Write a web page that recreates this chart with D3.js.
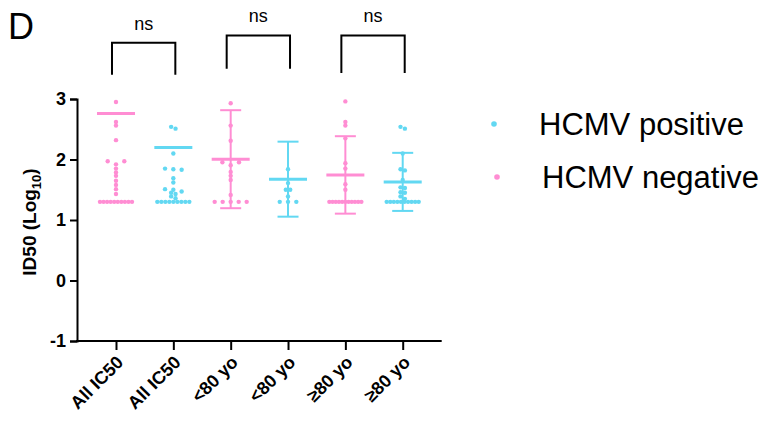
<!DOCTYPE html>
<html>
<head>
<meta charset="utf-8">
<script src="https://cdn.jsdelivr.net/npm/d3@7"></script>
<style>
  html, body { margin: 0; padding: 0; background: #fff; }
  svg { display: block; font-family: "Liberation Sans", Arial, sans-serif; }
</style>
</head>
<body>
<svg id="chart" width="772" height="421"></svg>
<script>
// Neutralising titres (log10 ID50) split by HCMV status and age group
const categories = ["All IC50", "All IC50", "<80 yo", "<80 yo", "≥80 yo", "≥80 yo"];
const status = ["negative", "positive", "negative", "positive", "negative", "positive"];

// Group mean and SD (null where only the central line is shown)
const means = [2.76, 2.20, 2.005, 1.675, 1.745, 1.63];
const sds = [null, null, 0.81, 0.62, 0.64, 0.48];

// Individual log10 titres per group, highest first
const allNeg = [2.95, 2.62, 2.56, 2.32, 1.97, 1.92, 1.97, 1.85, 1.785, 1.73, 1.65, 1.58, 1.51, 1.43,
  1.3, 1.3, 1.3, 1.3, 1.3, 1.3, 1.3, 1.3, 1.3, 1.3];
const allPos = [2.54, 2.51, 2.10, 1.85, 1.84, 1.83, 1.69, 1.62, 1.51, 1.50, 1.47, 1.45, 1.43, 1.39, 1.36,
  1.3, 1.3, 1.3, 1.3, 1.3, 1.3, 1.3, 1.3, 1.3];
const youngNeg = [2.93, 2.56, 2.31, 1.955, 1.905, 1.955, 1.795, 1.73, 1.66, 1.415, 1.3, 1.3, 1.3, 1.3, 1.3];
const youngPos = [1.84, 1.61, 1.50, 1.50, 1.39, 1.3, 1.3, 1.3];
const oldNeg = [2.96, 2.62, 2.56, 2.35, 1.94, 1.85, 1.59, 1.50,
  1.3, 1.3, 1.3, 1.3, 1.3, 1.3, 1.3, 1.3, 1.3, 1.3, 1.3];
const oldPos = [2.54, 2.51, 2.10, 1.84, 1.82, 1.66, 1.54, 1.53, 1.46, 1.45, 1.39, 1.35,
  1.3, 1.3, 1.3, 1.3, 1.3, 1.3, 1.3, 1.3, 1.3, 1.3];
const groupValues = [allNeg, allPos, youngNeg, youngPos, oldNeg, oldPos];

const yTicks = [-1, 0, 1, 2, 3];

// Comparisons drawn above the plot: category indices, bracket top / leg ends in log units
const comparisons = [
  { a: 0, b: 1, top: 3.93, leg: 3.40, label: "ns" },
  { a: 2, b: 3, top: 4.05, leg: 3.50, label: "ns" },
  { a: 4, b: 5, top: 4.05, leg: 3.43, label: "ns" }
];

const legendItems = ["positive", "negative"];
const legendLabels = { positive: "HCMV positive", negative: "HCMV negative" };

// ---- drawing ----
const colors = { negative: "#FF8DD3", positive: "#62D8F2" };
const svg = d3.select("#chart");

const x = d3.scalePoint()
  .domain(d3.range(categories.length))
  .range([77, 441.7])
  .padding(0.68);

const y = d3.scaleLinear().domain([-1, 3]).range([341, 99]);

// y axis
const yAxis = svg.append("g")
  .attr("transform", "translate(77,0)")
  .call(d3.axisLeft(y).tickValues(yTicks).tickFormat(d => String(d)).tickSize(7).tickPadding(4));
yAxis.select(".domain").attr("stroke", "#000").attr("stroke-width", 2);
yAxis.selectAll(".tick line").attr("stroke", "#000").attr("stroke-width", 2);
yAxis.selectAll(".tick text")
  .attr("font-size", 18).attr("font-weight", "bold").attr("fill", "#000")
  .attr("font-family", "Liberation Sans, Arial, sans-serif");

// x axis
const xAxis = svg.append("g")
  .attr("transform", "translate(0,341)")
  .call(d3.axisBottom(x).tickSizeOuter(0).tickSize(9).tickFormat(() => ""));
xAxis.select(".domain").attr("stroke", "#000").attr("stroke-width", 2)
  .attr("d", "M76,0H441.7");
xAxis.selectAll(".tick line").attr("stroke", "#000").attr("stroke-width", 2);

// rotated category labels
svg.append("g").selectAll("text")
  .data(categories)
  .join("text")
  .attr("transform", (d, i) => `translate(${x(i) + 4},${359}) rotate(-45)`)
  .attr("text-anchor", "end")
  .attr("dy", "0.35em")
  .attr("font-size", 18)
  .attr("font-weight", "bold")
  .attr("fill", "#000")
  .text(d => d);

// y axis title with subscript
const yTitle = svg.append("text")
  .attr("transform", "translate(36,222) rotate(-90)")
  .attr("text-anchor", "middle")
  .attr("font-size", 19)
  .attr("font-weight", "bold")
  .attr("fill", "#000");
yTitle.append("tspan").text("ID50 (Log");
yTitle.append("tspan").attr("font-size", 13).attr("dy", 5).text("10");
yTitle.append("tspan").attr("dy", -5).text(")");

// lay out points in rows: close values share a row and are spread sideways
function layout(values) {
  const rows = [];
  let current = null;
  values.forEach(v => {
    if (current && Math.abs(y(v) - y(current.start)) < 3.2) current.items.push(v);
    else { current = { start: v, items: [v] }; rows.push(current); }
  });
  const out = [];
  rows.forEach(r => {
    const n = r.items.length;
    const s = n === 2 ? 4.4 : Math.min(8.3, 32 / Math.max(1, n - 1));
    r.items.forEach((v, i) => out.push({ v, dx: (i - (n - 1) / 2) * s }));
  });
  return out;
}

const groups = svg.append("g").selectAll("g")
  .data(categories.map((c, i) => ({ i, status: status[i], mean: means[i], sd: sds[i], values: groupValues[i] })))
  .join("g")
  .attr("transform", d => `translate(${x(d.i)},0)`);

// error bars (mean ± SD)
groups.filter(d => d.sd != null).each(function (d) {
  const g = d3.select(this);
  const c = colors[d.status];
  g.append("line").attr("x1", 0).attr("x2", 0)
    .attr("y1", y(d.mean + d.sd)).attr("y2", y(d.mean - d.sd))
    .attr("stroke", c).attr("stroke-width", 2);
  [d.mean + d.sd, d.mean - d.sd].forEach(v => {
    g.append("line").attr("x1", -10.5).attr("x2", 10.5)
      .attr("y1", y(v)).attr("y2", y(v))
      .attr("stroke", c).attr("stroke-width", 2);
  });
});

// mean lines
groups.append("line")
  .attr("x1", -19).attr("x2", 19)
  .attr("y1", d => y(d.mean)).attr("y2", d => y(d.mean))
  .attr("stroke", d => colors[d.status])
  .attr("stroke-width", 3);

// individual points
groups.each(function (d) {
  d3.select(this).selectAll("circle")
    .data(layout(d.values))
    .join("circle")
    .attr("cx", p => p.dx)
    .attr("cy", p => y(p.v))
    .attr("r", 2.2)
    .attr("fill", colors[d.status]);
});

// significance brackets
const brackets = svg.append("g");
comparisons.forEach(cmp => {
  const x1 = x(cmp.a) - 4, x2 = x(cmp.b) + 2;
  brackets.append("path")
    .attr("d", `M${x1},${y(cmp.leg)}V${y(cmp.top)}H${x2}V${y(cmp.leg)}`)
    .attr("fill", "none").attr("stroke", "#000").attr("stroke-width", 2);
  brackets.append("text")
    .attr("x", (x1 + x2) / 2).attr("y", y(cmp.top) - 13)
    .attr("text-anchor", "middle")
    .attr("font-size", 18).attr("fill", "#000")
    .text(cmp.label);
});

// legend
const legend = svg.append("g").selectAll("g")
  .data(legendItems)
  .join("g")
  .attr("transform", (d, i) => `translate(${494 + i * 3},${124 + i * 53})`);
legend.append("circle").attr("r", 2.8).attr("fill", d => colors[d]);
legend.append("text")
  .attr("x", 45).attr("y", 11)
  .attr("font-size", 31).attr("fill", "#000")
  .text(d => legendLabels[d]);

// panel letter
svg.append("text")
  .attr("x", 8).attr("y", 39)
  .attr("font-size", 36).attr("fill", "#000")
  .text("D");
</script>
</body>
</html>
